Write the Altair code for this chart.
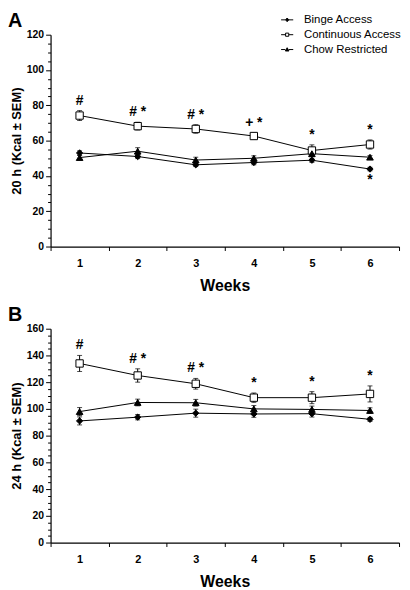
import altair as alt
import pandas as pd

weeks = [1, 2, 3, 4, 5, 6]
groups = ["Binge Access", "Continuous Access", "Chow Restricted"]

# Panel A: 20 h intake
a_binge = [53.0, 51.0, 46.3, 47.6, 48.9, 43.9]
a_binge_sem = [1.2, 1.2, 1.0, 1.3, 1.2, 1.0]
a_cont = [74.2, 68.2, 66.6, 62.6, 54.4, 57.8]
a_cont_sem = [2.8, 2.2, 2.4, 1.8, 3.2, 2.6]
a_chow = [50.4, 54.0, 49.0, 50.0, 52.6, 50.6]
a_chow_sem = [1.2, 2.0, 1.6, 1.4, 1.4, 1.0]
a_marks_cont = ["#", "# *", "# *", "+ *", "*", "*"]
a_marks_binge = ["", "", "", "", "", "*"]

# Panel B: 24 h intake
b_binge = [91.0, 93.8, 96.8, 96.2, 96.4, 92.2]
b_binge_sem = [3.0, 2.0, 3.0, 2.5, 2.5, 1.5]
b_cont = [134.0, 125.0, 118.8, 108.4, 108.4, 111.2]
b_cont_sem = [6.0, 5.0, 4.0, 3.5, 4.5, 6.0]
b_chow = [98.0, 104.8, 104.6, 100.0, 99.6, 98.8]
b_chow_sem = [3.0, 2.5, 2.5, 2.5, 2.5, 2.0]
b_marks_cont = ["#", "# *", "# *", "*", "*", "*"]
b_marks_binge = ["", "", "", "", "", ""]

FONT = "Liberation Sans"
shapes = {"Binge Access": ("diamond", "black", 40),
          "Continuous Access": ("square", "white", 55),
          "Chow Restricted": ("triangle-up", "black", 45)}
legend_paths = [
    "M-1,0H-0.28M0.28,0H1M0,-0.3L0.28,0L0,0.3L-0.28,0Z",
    "M-1,0H-0.26M0.26,0H1M-0.26,-0.26H0.26V0.26H-0.26Z",
    "M-1,0H-0.3M0.3,0H1M0,-0.3L0.3,0.24H-0.3Z",
]


def make_df(series, sems):
    rows = []
    for g, vals, ss in zip(groups, series, sems):
        for w, v, s in zip(weeks, vals, ss):
            rows.append(dict(Week=w, Group=g, Kcal=v, lo=v - s, hi=v + s))
    return pd.DataFrame(rows)


def make_ann(cont, cont_sem, mc, binge, binge_sem, mb):
    rows = []
    for w, v, s, m in zip(weeks, cont, cont_sem, mc):
        if m:
            rows.append(dict(Week=w, yv=v + s, label=m, pos="above"))
    for w, v, s, m in zip(weeks, binge, binge_sem, mb):
        if m:
            rows.append(dict(Week=w, yv=v - s, label=m, pos="below"))
    return pd.DataFrame(rows)


def panel(df, ann, ymax, ytitle, letter, show_legend, h):
    xenc = alt.X("Week:O", scale=alt.Scale(paddingInner=0, paddingOuter=0),
                 axis=alt.Axis(title="Weeks", labelAngle=0, tickBand="extent",
                               tickSize=4, labelPadding=7, titlePadding=9,
                               labelFontSize=11, titleFontSize=16))
    yscale = alt.Scale(domain=[0, ymax], nice=False, zero=True)
    yaxis = alt.Axis(title=ytitle, values=list(range(0, ymax + 1, 5)),
                     labelExpr="datum.value % 20 === 0 ? datum.label : ''",
                     tickSize={"condition": {"test": "datum.value % 20 === 0", "value": 5}, "value": 3},
                     labelPadding=2, titlePadding=3, labelFontSize=10.5, titleFontSize=13,
                     labelOverlap=False)

    def Y(field):
        return alt.Y(field, scale=yscale, axis=yaxis, title=ytitle)

    base = alt.Chart(df)
    layers = []
    layers.append(base.mark_line(color="black", strokeWidth=1).encode(
        x=xenc, y=Y("Kcal:Q"), detail="Group:N"))
    layers.append(base.mark_rule(color="black", strokeWidth=1).encode(
        x=xenc, y=Y("lo:Q"), y2="hi:Q"))
    layers.append(base.mark_tick(color="black", thickness=1, size=5).encode(
        x=xenc, y=Y("hi:Q")))
    layers.append(base.mark_tick(color="black", thickness=1, size=5).encode(
        x=xenc, y=Y("lo:Q")))
    for g in groups:
        shp, fill, size = shapes[g]
        layers.append(base.transform_filter(alt.datum.Group == g).mark_point(
            shape=shp, fill=fill, filled=True, stroke="black", strokeWidth=1,
            size=size, opacity=1).encode(
            x=xenc, y=Y("Kcal:Q")))
    tb = alt.Chart(ann)
    layers.append(tb.transform_filter(alt.datum.pos == "above").mark_text(
        baseline="bottom", dy=-3, font=FONT, fontSize=14, fontWeight="bold", color="black").encode(
        x=xenc, y=Y("yv:Q"), text="label:N"))
    layers.append(tb.transform_filter(alt.datum.pos == "below").mark_text(
        baseline="top", dy=2, font=FONT, fontSize=14, fontWeight="bold", color="black").encode(
        x=xenc, y=Y("yv:Q"), text="label:N"))
    # panel letter
    layers.append(alt.Chart(pd.DataFrame({"panel": [letter]})).mark_text(
        baseline="top", align="left", font=FONT, fontSize=20, fontWeight="bold", color="black").encode(
        text="panel:N", x=alt.value(-43), y=alt.value(-24)))
    if show_legend:
        leg = alt.Legend(title=None, orient="none", legendX=232, legendY=-22,
                         labelFont=FONT, labelFontSize=11.5, labelFontWeight="normal",
                         labelColor="black", symbolSize=150, symbolStrokeWidth=1,
                         rowPadding=2, labelOffset=10)
        layers.append(base.transform_filter("datum.Week > 99").mark_point(
            filled=True, stroke="black", strokeWidth=1, opacity=1).encode(
            x=xenc, y=Y("Kcal:Q"),
            shape=alt.Shape("Group:N", scale=alt.Scale(domain=groups, range=legend_paths), legend=leg),
            fill=alt.Fill("Group:N", scale=alt.Scale(domain=groups, range=["black", "white", "black"]), legend=leg)))
    return alt.layer(*layers).properties(width=352, height=h)


dfa = make_df([a_binge, a_cont, a_chow], [a_binge_sem, a_cont_sem, a_chow_sem])
dfb = make_df([b_binge, b_cont, b_chow], [b_binge_sem, b_cont_sem, b_chow_sem])
anna = make_ann(a_cont, a_cont_sem, a_marks_cont, a_binge, a_binge_sem, a_marks_binge)
annb = make_ann(b_cont, b_cont_sem, b_marks_cont, b_binge, b_binge_sem, b_marks_binge)

pa = panel(dfa, anna, 120, "20 h (Kcal ± SEM)", "A", True, 214)
pb = panel(dfb, annb, 160, "24 h (Kcal ± SEM)", "B", False, 216)

chart = alt.vconcat(pa, pb, spacing=12).properties(
    padding={"left": 0, "top": 0, "right": 0, "bottom": 0}
).configure_view(stroke=None).configure_axis(
    labelFont=FONT, titleFont=FONT, labelFontWeight="bold", titleFontWeight="bold",
    labelColor="black", titleColor="black", domainColor="black", tickColor="black",
    domainWidth=1.2, tickWidth=1, grid=False
).configure_legend(labelFont=FONT)

chart.save("out.html", embed_options={"renderer": "svg", "actions": False})
